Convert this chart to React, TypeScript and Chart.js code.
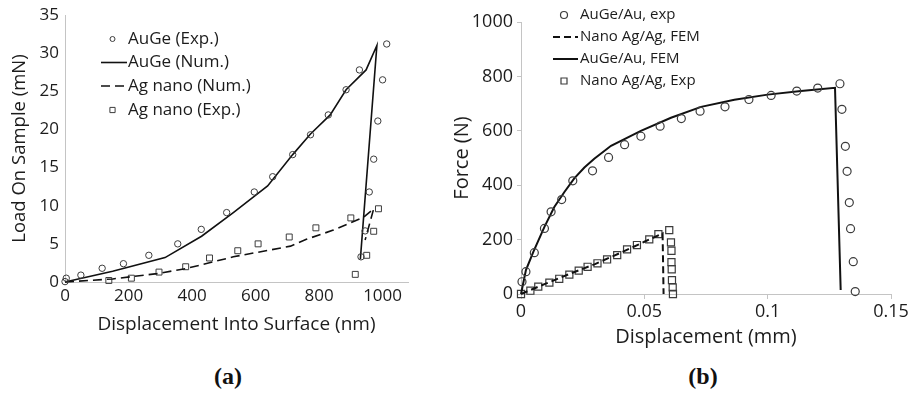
import React, { useEffect, useRef } from 'react';
import { Chart, registerables } from 'chart.js';

Chart.register(...registerables);

// ---------- (a) Nanoindentation: load on sample vs. displacement into surface ----------
const augeExpDepth = [0, 4, 50, 117, 184, 264, 355, 429, 509, 596, 654, 717, 773, 829, 885, 927, 1013, 1000, 985, 972, 958, 945, 932];
const augeExpLoad = [0.05, 0.5, 0.9, 1.8, 2.4, 3.5, 5.0, 6.9, 9.1, 11.8, 13.8, 16.7, 19.3, 21.9, 25.2, 27.8, 31.2, 26.5, 21.1, 16.1, 11.8, 6.7, 3.3];

const augeNumDepth = [0, 150, 315, 430, 530, 638, 717, 773, 835, 885, 948, 982, 930];
const augeNumLoad = [0, 1.4, 3.2, 6.0, 9.1, 12.6, 16.7, 19.4, 21.9, 25.2, 27.8, 31.0, 3.0];

const agNumDepth = [0, 150, 290, 380, 530, 710, 760, 845, 940, 972, 945];
const agNumLoad = [0, 0.4, 1.1, 1.75, 3.3, 4.7, 5.6, 6.8, 8.5, 9.6, 5.5];

const agExpDepth = [138, 209, 296, 380, 455, 544, 608, 706, 790, 900, 987, 972, 950, 914];
const agExpLoad = [0.2, 0.5, 1.3, 2.0, 3.15, 4.1, 5.0, 5.9, 7.1, 8.4, 9.6, 6.65, 3.5, 1.0];

const depthTicks = [0, 200, 400, 600, 800, 1000];
const loadTicks = [0, 5, 10, 15, 20, 25, 30, 35];

// ---------- (b) Force vs. displacement ----------
const augeAuExpDisp = [0.0004, 0.002, 0.0054, 0.0095, 0.0122, 0.0165, 0.021, 0.029, 0.0355, 0.042, 0.0486, 0.0564, 0.065, 0.0726, 0.0827, 0.0924, 0.1014, 0.1118, 0.1203, 0.1293, 0.1301, 0.1315, 0.1322, 0.1331, 0.1336, 0.1347, 0.1355];
const augeAuExpForce = [45, 82, 152, 241, 302, 347, 416, 453, 502, 549, 580, 617, 645, 672, 688, 715, 730, 746, 757, 773, 679, 543, 451, 336, 240, 119, 9];

const nanoAgFemDisp = [0, 0.01, 0.02, 0.03, 0.04, 0.05, 0.0574, 0.0578];
const nanoAgFemForce = [0, 38, 75, 110, 150, 192, 223, 0];

const augeAuFemDisp = [0, 0.002, 0.005, 0.0095, 0.0135, 0.0176, 0.0216, 0.0257, 0.0297, 0.0365, 0.0486, 0.0608, 0.073, 0.0865, 0.1, 0.1135, 0.1273, 0.1296];
const augeAuFemForce = [0, 88, 155, 247, 320, 375, 425, 465, 497, 545, 600, 648, 688, 714, 733, 746, 758, 15];

const nanoAgExpDisp = [0, 0.0038, 0.007, 0.0115, 0.0155, 0.0196, 0.0234, 0.027, 0.031, 0.0349, 0.039, 0.043, 0.047, 0.052, 0.0557, 0.0601, 0.0608, 0.061, 0.061, 0.0611, 0.0612, 0.0615, 0.0616];
const nanoAgExpForce = [0, 12, 27, 42, 56, 71, 86, 100, 113, 127, 143, 164, 180, 201, 220, 235, 190, 159, 117, 91, 51, 24, 0];

const dispTicks = [0, 0.05, 0.1, 0.15];
const forceTicks = [0, 200, 400, 600, 800, 1000];

const FONT = '"Open Sans", "DejaVu Sans", sans-serif';
const TEXT = '#1c1c1c';
const AXIS = '#c4c4c4';
const INK = '#111111';
const MARK = '#3c3c3c';

const pts = (xs: number[], ys: number[]) => xs.map((x, i) => ({ x, y: ys[i] }));

// Legend drawn inside the plot: a line sample or marker followed by the series name.
const sampleLegend = {
  id: 'sampleLegend',
  afterDraw(chart: any, _args: any, opts: any) {
    if (!opts || !opts.rowY) return;
    const { ctx } = chart;
    ctx.save();
    ctx.font = `${opts.fontSize}px ${FONT}`;
    ctx.textBaseline = 'middle';
    ctx.textAlign = 'left';
    chart.data.datasets.forEach((ds: any, i: number) => {
      const y = opts.rowY[i];
      ctx.save();
      if (ds.showLine) {
        ctx.strokeStyle = ds.borderColor;
        ctx.lineWidth = ds.borderWidth;
        ctx.setLineDash(ds.borderDash || []);
        ctx.beginPath();
        ctx.moveTo(opts.lineX[0], y);
        ctx.lineTo(opts.lineX[1], y);
        ctx.stroke();
      } else {
        ctx.strokeStyle = ds.pointBorderColor;
        ctx.lineWidth = ds.pointBorderWidth;
        const r = ds.pointStyle === 'rect' ? opts.squareHalf : opts.circleR;
        ctx.beginPath();
        if (ds.pointStyle === 'rect') ctx.rect(opts.markerX - r, y - r, 2 * r, 2 * r);
        else ctx.arc(opts.markerX, y, r, 0, Math.PI * 2);
        ctx.stroke();
      }
      ctx.restore();
      ctx.fillStyle = TEXT;
      ctx.fillText(ds.label, opts.textX, y);
    });
    ctx.restore();
  },
};

const lineSet = (label: string, data: any[], width: number, dash: number[] = []) => ({
  label,
  data,
  showLine: true,
  borderColor: INK,
  borderWidth: width,
  borderDash: dash,
  pointRadius: 0,
  pointHoverRadius: 0,
  fill: false,
  tension: 0,
  clip: false,
});

const markSet = (label: string, data: any[], style: string, radius: number, width: number) => ({
  label,
  data,
  showLine: false,
  pointStyle: style,
  pointRadius: radius,
  pointHoverRadius: radius,
  pointBorderColor: MARK,
  pointBorderWidth: width,
  pointBackgroundColor: 'rgba(255,255,255,0)',
  clip: false,
});

const fixedTicks = (values: number[]) => (scale: any) => {
  scale.ticks = values.map((value) => ({ value }));
};

function panelA(): any {
  return {
    type: 'scatter',
    data: {
      datasets: [
        markSet('AuGe (Exp.)', pts(augeExpDepth, augeExpLoad), 'circle', 3.2, 1),
        lineSet('AuGe (Num.)', pts(augeNumDepth, augeNumLoad), 1.6),
        lineSet('Ag nano (Num.)', pts(agNumDepth, agNumLoad), 1.6, [9, 5]),
        markSet('Ag nano (Exp.)', pts(agExpDepth, agExpLoad), 'rect', 4.2, 1),
      ],
    },
    options: {
      responsive: false,
      animation: false,
      events: [],
      layout: { padding: { left: 0, top: 15, right: 46, bottom: 0 } },
      plugins: {
        legend: { display: false },
        tooltip: { enabled: false },
        sampleLegend: {
          fontSize: 17,
          rowY: [39, 62.5, 86, 110],
          lineX: [101, 127],
          markerX: 112.5,
          textX: 128,
          circleR: 2.5,
          squareHalf: 2.6,
        },
      },
      scales: {
        x: {
          type: 'linear',
          min: 0,
          max: 1080,
          afterBuildTicks: fixedTicks(depthTicks),
          afterFit: (s: any) => {
            s.height = 63;
            s.paddingLeft = 0;
            s.paddingRight = 0;
          },
          grid: { display: false, drawTicks: false },
          border: { display: true, color: AXIS, width: 1 },
          ticks: {
            padding: 4,
            color: TEXT,
            font: { family: FONT, size: 17 },
            maxRotation: 0,
            autoSkip: false,
            callback: (v: any) => String(v),
          },
          title: {
            display: true,
            text: 'Displacement Into Surface (nm)',
            color: TEXT,
            font: { family: FONT, size: 19 },
            padding: { top: 0, bottom: 9 },
          },
        },
        y: {
          type: 'linear',
          min: 0,
          max: 35,
          afterBuildTicks: fixedTicks(loadTicks),
          afterFit: (s: any) => {
            s.width = 65;
            s.paddingTop = 0;
            s.paddingBottom = 0;
          },
          grid: { display: false, drawTicks: false },
          border: { display: true, color: AXIS, width: 1 },
          ticks: {
            padding: 6,
            color: TEXT,
            font: { family: FONT, size: 17 },
            callback: (v: any) => String(v),
          },
          title: {
            display: true,
            text: 'Load On Sample (mN)',
            color: TEXT,
            font: { family: FONT, size: 18.5 },
            padding: { top: 9, bottom: 0 },
          },
        },
      },
    },
    plugins: [sampleLegend],
  };
}

function panelB(): any {
  return {
    type: 'scatter',
    data: {
      datasets: [
        markSet('AuGe/Au, exp', pts(augeAuExpDisp, augeAuExpForce), 'circle', 4, 1.2),
        lineSet('Nano Ag/Ag, FEM', pts(nanoAgFemDisp, nanoAgFemForce), 2, [7, 4]),
        lineSet('AuGe/Au, FEM', pts(augeAuFemDisp, augeAuFemForce), 2),
        markSet('Nano Ag/Ag, Exp', pts(nanoAgExpDisp, nanoAgExpForce), 'rect', 5, 1.2),
      ],
    },
    options: {
      responsive: false,
      animation: false,
      events: [],
      layout: { padding: { left: 0, top: 22, right: 17, bottom: 0 } },
      plugins: {
        legend: { display: false },
        tooltip: { enabled: false },
        sampleLegend: {
          fontSize: 15,
          rowY: [15, 37, 59, 81],
          lineX: [103, 128],
          markerX: 114,
          textX: 130,
          circleR: 3.5,
          squareHalf: 3,
        },
      },
      scales: {
        x: {
          type: 'linear',
          min: 0,
          max: 0.15,
          afterBuildTicks: fixedTicks(dispTicks),
          afterFit: (s: any) => {
            s.height = 66;
            s.paddingLeft = 0;
            s.paddingRight = 0;
          },
          grid: { display: true, drawOnChartArea: false, drawTicks: true, tickLength: 5, color: AXIS },
          border: { display: true, color: AXIS, width: 1 },
          ticks: {
            padding: 2,
            color: TEXT,
            font: { family: FONT, size: 18 },
            maxRotation: 0,
            autoSkip: false,
            callback: (v: any) => String(Number(Number(v).toFixed(3))),
          },
          title: {
            display: true,
            text: 'Displacement (mm)',
            color: TEXT,
            font: { family: FONT, size: 20 },
            padding: { top: 0, bottom: 11 },
          },
        },
        y: {
          type: 'linear',
          min: 0,
          max: 1000,
          afterBuildTicks: fixedTicks(forceTicks),
          afterFit: (s: any) => {
            s.width = 71;
            s.paddingTop = 0;
            s.paddingBottom = 0;
          },
          grid: { display: true, drawOnChartArea: false, drawTicks: true, tickLength: 4, color: AXIS },
          border: { display: true, color: AXIS, width: 1 },
          ticks: {
            padding: 4,
            color: TEXT,
            font: { family: FONT, size: 18 },
            callback: (v: any) => String(v),
          },
          title: {
            display: true,
            text: 'Force (N)',
            color: TEXT,
            font: { family: FONT, size: 20 },
            padding: { top: 0, bottom: 0 },
          },
        },
      },
    },
    plugins: [sampleLegend],
  };
}

const caption: React.CSSProperties = {
  position: 'absolute',
  width: 100,
  top: 363,
  height: 26,
  lineHeight: '26px',
  textAlign: 'center',
  font: 'bold 24px "Liberation Serif", "DejaVu Serif", serif',
  color: '#111',
};

export default function App() {
  const refA = useRef<HTMLCanvasElement | null>(null);
  const refB = useRef<HTMLCanvasElement | null>(null);

  useEffect(() => {
    const a = new Chart(refA.current as HTMLCanvasElement, panelA());
    const b = new Chart(refB.current as HTMLCanvasElement, panelB());
    return () => {
      a.destroy();
      b.destroy();
    };
  }, []);

  return (
    <div style={{ position: 'absolute', left: 0, top: 0, width: 908, height: 394, background: '#fff', overflow: 'hidden' }}>
      <canvas ref={refA} width={454} height={345} style={{ position: 'absolute', left: 0, top: 0 }} />
      <canvas ref={refB} width={458} height={360} style={{ position: 'absolute', left: 450, top: 0 }} />
      <div style={{ ...caption, left: 178 }}>(a)</div>
      <div style={{ ...caption, left: 653 }}>(b)</div>
    </div>
  );
}
